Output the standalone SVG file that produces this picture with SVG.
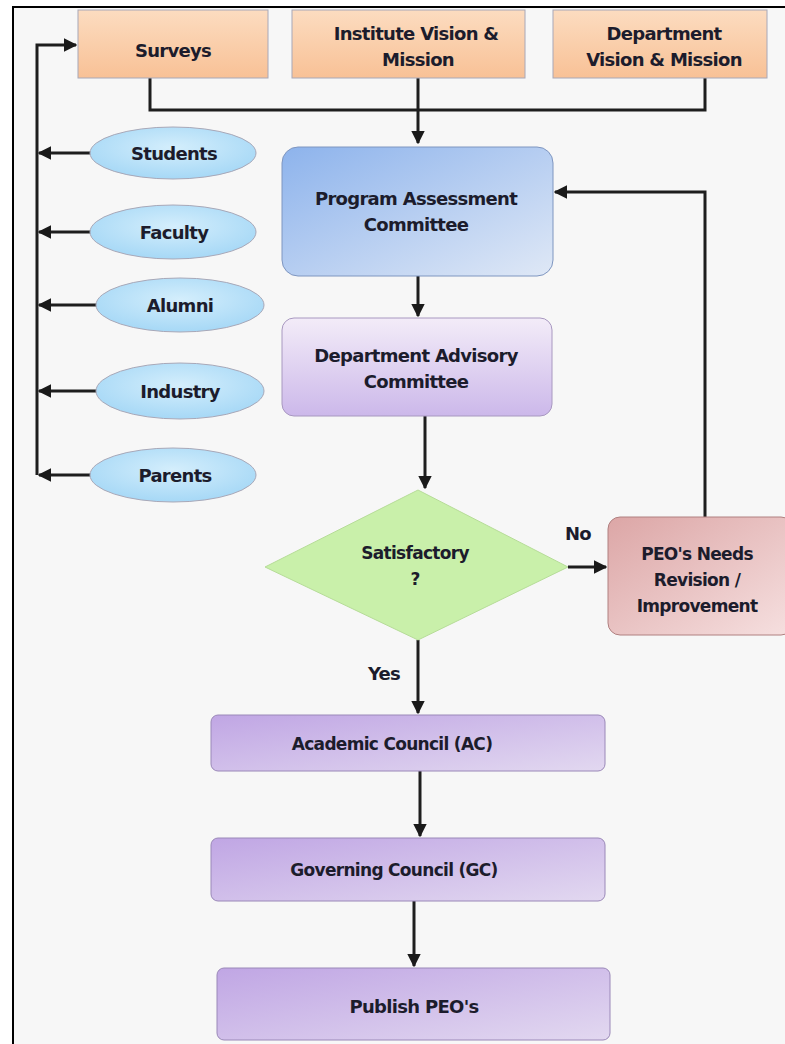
<svg xmlns="http://www.w3.org/2000/svg" width="785" height="1044" viewBox="0 0 785 1044">
<defs>
<linearGradient id="gPeach" x1="0" y1="0" x2="0" y2="1"><stop offset="0" stop-color="#fcdcc0"/><stop offset="1" stop-color="#f8c196"/></linearGradient>
<linearGradient id="gBlue" x1="0" y1="0" x2="1" y2="1"><stop offset="0" stop-color="#8db3ec"/><stop offset="1" stop-color="#dfe8f6"/></linearGradient>
<linearGradient id="gLav" x1="0" y1="0" x2="0" y2="1"><stop offset="0" stop-color="#f3ecf8"/><stop offset="1" stop-color="#ccb8ea"/></linearGradient>
<linearGradient id="gPurple" x1="0" y1="0" x2="1" y2="1"><stop offset="0" stop-color="#c0a6e4"/><stop offset="1" stop-color="#e2d8f0"/></linearGradient>
<linearGradient id="gPink" x1="0" y1="0" x2="1" y2="1"><stop offset="0" stop-color="#dca6a6"/><stop offset="1" stop-color="#f6e0e0"/></linearGradient>
<radialGradient id="gEll" cx="0.5" cy="0.4" r="0.6"><stop offset="0" stop-color="#d4eefc"/><stop offset="1" stop-color="#a6d8f6"/></radialGradient>
<marker id="arr" viewBox="0 0 10 10" refX="9" refY="5" markerWidth="4.5" markerHeight="4.5" orient="auto"><path d="M0,0 L10,5 L0,10 z" fill="#1a1a1a"/></marker>
</defs>
<style>
.t{font-family:"DejaVu Sans","Verdana",sans-serif;font-weight:bold;font-size:18px;fill:#1c1c2c;text-anchor:middle;letter-spacing:-0.7px}
.s{font-size:17px}
.c{fill:none;stroke:#1e1e1e;stroke-width:3}
.b{stroke:#a8a8b8;stroke-width:1}
</style>
<rect x="0" y="0" width="785" height="1044" fill="#ffffff"/>
<rect x="13" y="7" width="772" height="1037" fill="#f7f7f7"/>
<path d="M13,1044 V7 H785" fill="none" stroke="#000" stroke-width="2"/>

<g id="connectors">
<path class="c" d="M150,78 V110 H705 V78"/>
<path class="c" d="M418,78 V143" marker-end="url(#arr)"/>
<path class="c" d="M37,475 V45 H76" marker-end="url(#arr)"/>
<path class="c" d="M91,153 H39" marker-end="url(#arr)"/>
<path class="c" d="M91,232 H39" marker-end="url(#arr)"/>
<path class="c" d="M97,305 H39" marker-end="url(#arr)"/>
<path class="c" d="M97,391 H39" marker-end="url(#arr)"/>
<path class="c" d="M91,475 H39" marker-end="url(#arr)"/>
<path class="c" d="M418,276 V316" marker-end="url(#arr)"/>
<path class="c" d="M425,416 V488" marker-end="url(#arr)"/>
<path class="c" d="M568,567 H606" marker-end="url(#arr)"/>
<path class="c" d="M705,517 V192 H555" marker-end="url(#arr)"/>
<path class="c" d="M418,640 V713" marker-end="url(#arr)"/>
<path class="c" d="M420,771 V836" marker-end="url(#arr)"/>
<path class="c" d="M414,901 V966" marker-end="url(#arr)"/>
<text class="t" x="578" y="540" font-size="19">No</text>
<text class="t" x="384" y="680" font-size="19">Yes</text>
</g>

<g id="surveys"><rect class="b" x="78" y="10" width="190" height="68" fill="url(#gPeach)"/><text class="t" x="173" y="57">Surveys</text></g>
<g id="institute"><rect class="b" x="292" y="10" width="233" height="68" fill="url(#gPeach)"/><text class="t" x="416" y="40">Institute Vision &amp;</text><text class="t" x="418" y="66">Mission</text></g>
<g id="department"><rect class="b" x="553" y="10" width="214" height="68" fill="url(#gPeach)"/><text class="t" x="664" y="40">Department</text><text class="t" x="664" y="66">Vision &amp; Mission</text></g>

<g id="students"><ellipse class="b" cx="173" cy="153" rx="83" ry="26" fill="url(#gEll)"/><text class="t" x="174" y="160">Students</text></g>
<g id="faculty"><ellipse class="b" cx="173" cy="232" rx="83" ry="27" fill="url(#gEll)"/><text class="t" x="174" y="239">Faculty</text></g>
<g id="alumni"><ellipse class="b" cx="180" cy="305" rx="84" ry="27" fill="url(#gEll)"/><text class="t" x="180" y="312">Alumni</text></g>
<g id="industry"><ellipse class="b" cx="180" cy="391" rx="84" ry="28" fill="url(#gEll)"/><text class="t" x="180" y="398">Industry</text></g>
<g id="parents"><ellipse class="b" cx="173" cy="475" rx="83" ry="27" fill="url(#gEll)"/><text class="t" x="175" y="482">Parents</text></g>

<g id="pac"><rect x="282" y="147" width="271" height="129" rx="16" fill="url(#gBlue)" stroke="#7f96c0" stroke-width="1"/><text class="t" x="416" y="205">Program Assessment</text><text class="t" x="416" y="231">Committee</text></g>
<g id="dac"><rect x="282" y="318" width="270" height="98" rx="12" fill="url(#gLav)" stroke="#a898c0" stroke-width="1"/><text class="t" x="416" y="362">Department Advisory</text><text class="t" x="416" y="388">Committee</text></g>
<g id="decision"><polygon points="418,490 568,567 418,640 265,567" fill="#c9f0aa" stroke="#b6dc98" stroke-width="1"/><text class="t s" x="415" y="559" fill="#1f3a1f">Satisfactory</text><text class="t s" x="415" y="585">?</text></g>
<g id="peo"><rect x="608" y="517" width="185" height="118" rx="12" fill="url(#gPink)" stroke="#b08080" stroke-width="1"/><text class="t s" x="697" y="560">PEO's Needs</text><text class="t s" x="697" y="586">Revision /</text><text class="t s" x="697" y="612">Improvement</text></g>
<g id="ac"><rect x="211" y="715" width="394" height="56" rx="7" fill="url(#gPurple)" stroke="#9a88b8" stroke-width="1"/><text class="t s" x="392" y="750">Academic Council (AC)</text></g>
<g id="gc"><rect x="211" y="838" width="394" height="63" rx="7" fill="url(#gPurple)" stroke="#9a88b8" stroke-width="1"/><text class="t s" x="394" y="876">Governing Council (GC)</text></g>
<g id="publish"><rect x="217" y="968" width="393" height="72" rx="7" fill="url(#gPurple)" stroke="#9a88b8" stroke-width="1"/><text class="t" x="414" y="1013">Publish PEO's</text></g>
</svg>
